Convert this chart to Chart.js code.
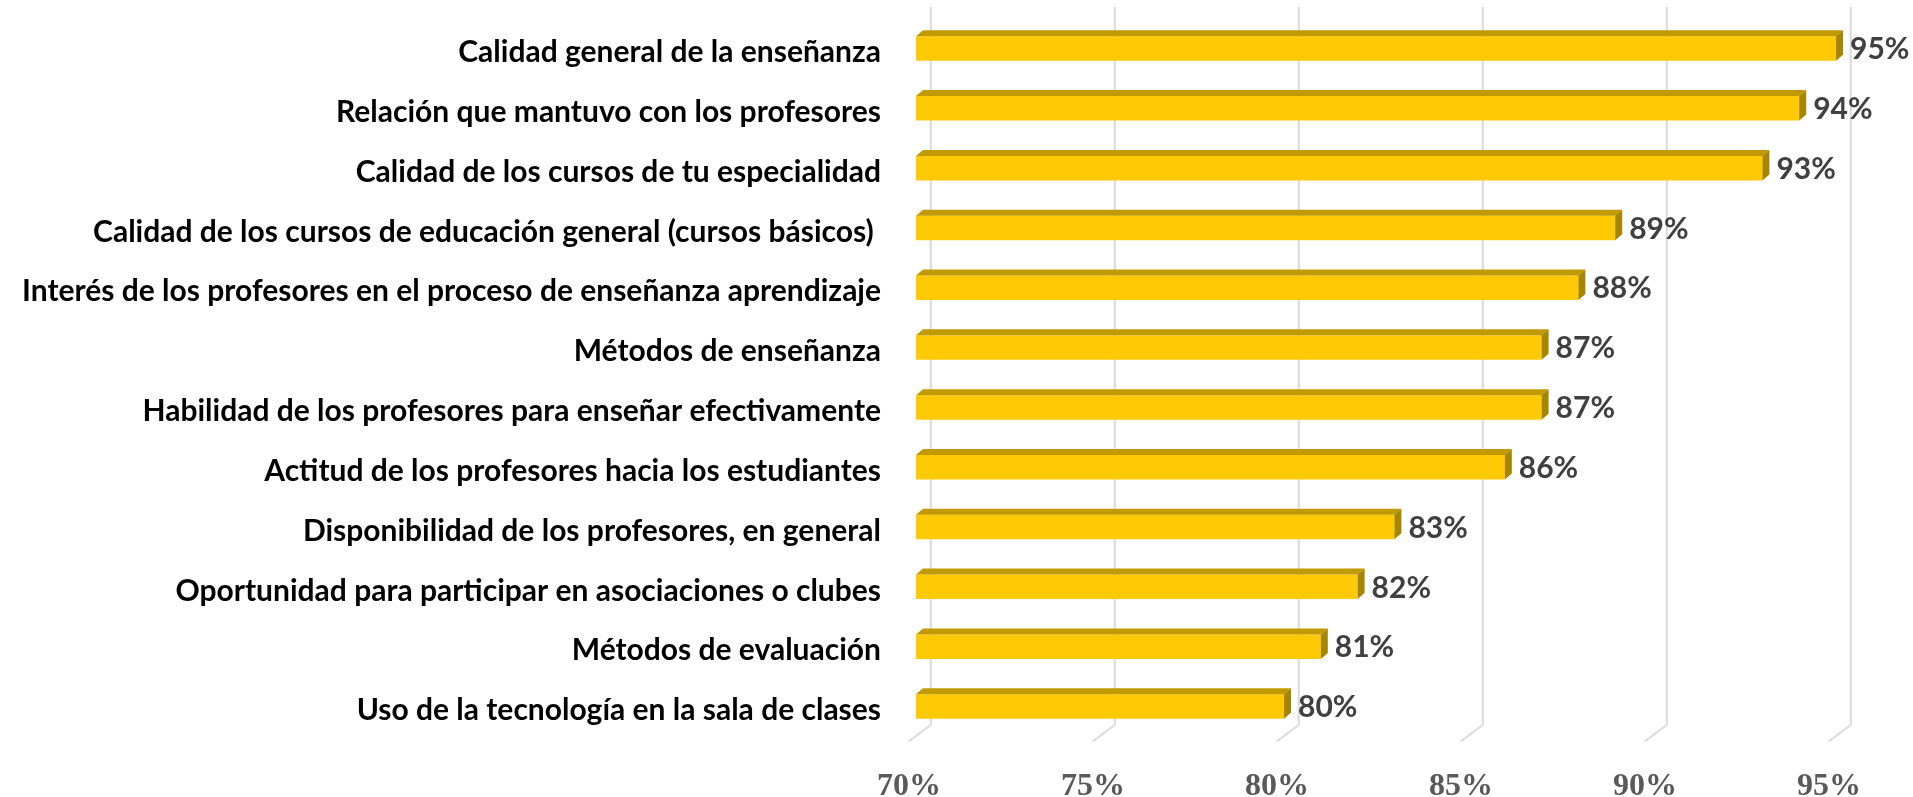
<!DOCTYPE html>
<html lang="es">
<head>
<meta charset="utf-8">
<title>Satisfacción con la enseñanza</title>
<script src="https://cdn.jsdelivr.net/npm/chart.js@4.4.1/dist/chart.umd.min.js"></script>
<style>
    html, body { margin: 0; padding: 0; background: #ffffff; }
    #wrap { width: 1913px; height: 797px; }
</style>
</head>
<body>
<div id="wrap"><canvas id="satisfaccionChart" width="1913" height="797"></canvas></div>
<script>
// Chart data
const categories = [
    'Calidad general de la enseñanza',
    'Relación que mantuvo con los profesores',
    'Calidad de los cursos de tu especialidad',
    'Calidad de los cursos de educación general (cursos básicos) ',
    'Interés de los profesores en el proceso de enseñanza aprendizaje',
    'Métodos de enseñanza',
    'Habilidad de los profesores para enseñar efectivamente',
    'Actitud de los profesores hacia los estudiantes',
    'Disponibilidad de los profesores, en general',
    'Oportunidad para participar en asociaciones o clubes',
    'Métodos de evaluación',
    'Uso de la tecnología en la sala de clases'
];
const percentages = [95, 94, 93, 89, 88, 87, 87, 86, 83, 82, 81, 80];
const axisTicks = [70, 75, 80, 85, 90, 95];

// 3D look (offsets in px)
const depth = { barX: 7, barY: 6, wallX: 14.7, wallTop: 11.6, wallBottom: 11.4, floorX: -7, floorY: 4.6 };

const colors = {
    front: '#ffc905',
    top: '#c19a00',
    side: '#a68500',
    grid: '#d9d9d9',
    label: '#000000',
    value: '#404040',
    tick: '#595959'
};

// draws the back wall grid lines with the slanted floor part
const wallGrid = {
    id: 'wallGrid',
    beforeDatasetsDraw(chart) {
        const { ctx, chartArea, scales: { x } } = chart;
        ctx.save();
        ctx.strokeStyle = colors.grid;
        ctx.lineWidth = 2;
        axisTicks.forEach(v => {
            const px = x.getPixelForValue(v);
            ctx.beginPath();
            ctx.moveTo(px + depth.wallX, chartArea.top - depth.wallTop);
            ctx.lineTo(px + depth.wallX, chartArea.bottom - depth.wallBottom);
            ctx.lineTo(px + depth.floorX, chartArea.bottom + depth.floorY);
            ctx.stroke();
        });
        ctx.restore();
    }
};

// top and side faces of each bar, then the value labels
const barFaces = {
    id: 'barFaces',
    afterDatasetsDraw(chart) {
        const { ctx, chartArea } = chart;
        const meta = chart.getDatasetMeta(0);
        ctx.save();
        meta.data.forEach((bar, i) => {
            const { x, y, base, height } = bar.getProps(['x', 'y', 'base', 'height'], true);
            const left = Math.max(base, chartArea.left);
            const top = y - height / 2;
            const bottom = y + height / 2;

            ctx.fillStyle = colors.top;
            ctx.beginPath();
            ctx.moveTo(left, top);
            ctx.lineTo(left + depth.barX, top - depth.barY);
            ctx.lineTo(x + depth.barX, top - depth.barY);
            ctx.lineTo(x, top);
            ctx.closePath();
            ctx.fill();

            ctx.fillStyle = colors.side;
            ctx.beginPath();
            ctx.moveTo(x, top);
            ctx.lineTo(x + depth.barX, top - depth.barY);
            ctx.lineTo(x + depth.barX, bottom - depth.barY);
            ctx.lineTo(x, bottom);
            ctx.closePath();
            ctx.fill();

            ctx.fillStyle = colors.value;
            ctx.font = 'bold 30px Lato';
            ctx.textAlign = 'left';
            ctx.textBaseline = 'middle';
            ctx.fillText(percentages[i] + '%', x + depth.barX + 7, y + 1);
        });
        ctx.restore();
    }
};

const ctx = document.getElementById('satisfaccionChart').getContext('2d');

new Chart(ctx, {
    type: 'bar',
    data: {
        labels: categories,
        datasets: [{
            data: percentages,
            backgroundColor: colors.front,
            borderWidth: 0,
            categoryPercentage: 1,
            barPercentage: 0.41
        }]
    },
    options: {
        indexAxis: 'y',
        responsive: false,
        animation: false,
        layout: {
            padding: { top: 18.6, right: 77, bottom: 0, left: 0 }
        },
        plugins: {
            legend: { display: false },
            tooltip: { enabled: false }
        },
        scales: {
            x: {
                min: 70,
                max: 95,
                grid: { display: false, drawTicks: false },
                border: { display: false },
                afterFit: (scale) => {
                    scale.height = 60.6;
                    scale.paddingLeft = 0;
                    scale.paddingRight = 0;
                },
                ticks: {
                    stepSize: 5,
                    padding: 31,
                    labelOffset: -7,
                    color: colors.tick,
                    font: { family: '"Liberation Serif"', size: 32, weight: 'bold' },
                    callback: (value) => value + '%'
                }
            },
            y: {
                grid: { display: false, drawTicks: false },
                border: { display: false },
                afterFit: (scale) => {
                    scale.width = 916;
                    scale.paddingTop = 0;
                    scale.paddingBottom = 0;
                },
                ticks: {
                    padding: 35,
                    labelOffset: 4,
                    color: colors.label,
                    font: { family: 'Lato', size: 30, weight: 'bold' }
                }
            }
        }
    },
    plugins: [wallGrid, barFaces]
});
</script>
</body>
</html>
